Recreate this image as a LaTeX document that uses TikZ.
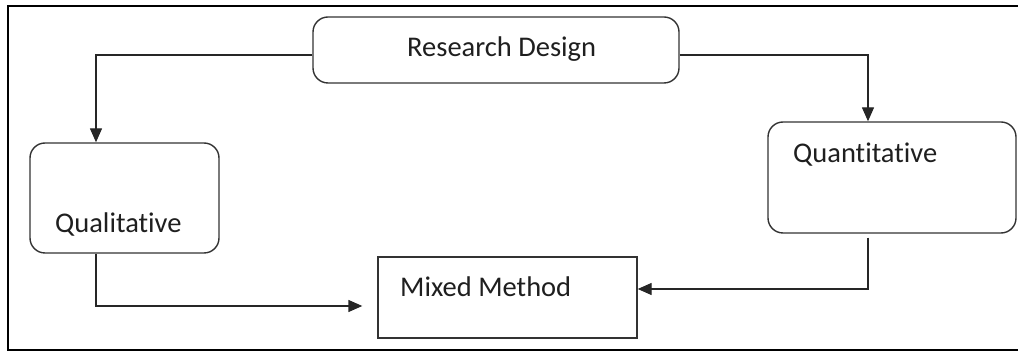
\documentclass[tikz,border=0pt]{standalone}
\usepackage{fontspec}
\setmainfont{Carlito}[Ligatures={NoCommon,NoContextual},RawFeature={-liga;-calt}]
\usetikzlibrary{arrows.meta}
\tikzset{
  box/.style={draw=black!80, line width=1.4pt, inner sep=0pt, rounded corners=15pt},
  sqbox/.style={draw=black!80, line width=1.4pt, inner sep=0pt},
  lbl/.style={anchor=base west, inner sep=0pt, text=black!88, font=\fontsize{28.5}{34}\selectfont},
  conn/.style={draw=black!85, line width=1.4pt, -{Triangle[length=14pt,width=12pt]}}
}
\begin{document}
\begin{tikzpicture}[x=1pt,y=-1pt]
\clip (0,0) rectangle (1018,352);
\fill[white] (0,0) rectangle (1018,352);
% outer frame (right edge lies outside the picture)
\draw[line width=2.6pt] (8,6) rectangle (1040,350);

\node[box, minimum width=366pt, minimum height=66pt] (rd) at (496,50) {};
\node[box, minimum width=189pt, minimum height=110pt] (ql) at (124.5,198) {};
\node[box, minimum width=248pt, minimum height=111pt] (qn) at (892,177.5) {};
\node[sqbox, minimum width=259pt, minimum height=81pt] (mm) at (507.5,297.5) {};

\node[lbl] (trd) at (407,57) {Research Design};
\node[lbl] (tql) at (55,232.5) {Qualitative};
\node[lbl] (tqn) at (793,163) {Quantitative};
\node[lbl] (tmm) at (400,296.5) {Mixed Method};

\draw[conn] ([yshift=-5pt]rd.west) -| ([xshift=-28.5pt]ql.north);
\draw[conn] ([yshift=-5pt]rd.east) -| ([xshift=-24pt]qn.north);
\draw[conn] ([xshift=-28.5pt]ql.south) |- ([xshift=-15pt,yshift=-8.5pt]mm.west);
\draw[conn] ([xshift=-24pt,yshift=-4pt]qn.south) |- ([yshift=8.5pt]mm.east);
\end{tikzpicture}
\end{document}
